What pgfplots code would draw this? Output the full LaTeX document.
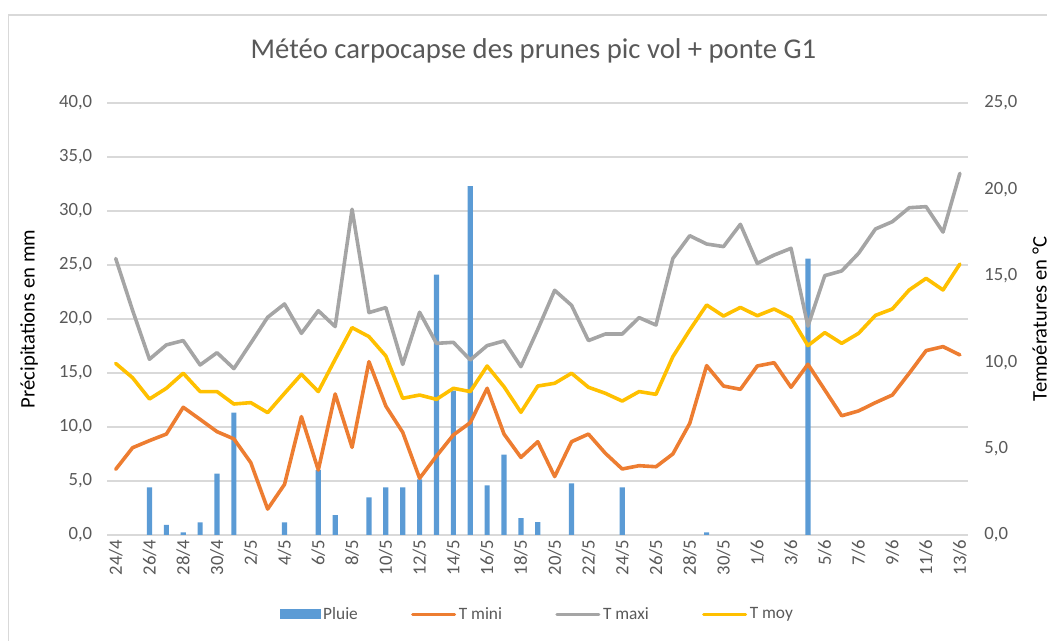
\documentclass[border=0pt]{standalone}
\usepackage{pgfplots}
\pgfplotsset{compat=1.18}
\usepackage{pgfplotstable}
\usepackage{fontspec}
\setmainfont{Carlito}
\definecolor{pblue}{HTML}{5B9BD5}
\definecolor{porange}{HTML}{ED7D31}
\definecolor{pgrey}{HTML}{A5A5A5}
\definecolor{pyellow}{HTML}{FFC000}
\definecolor{gridc}{HTML}{D9D9D9}
\definecolor{txt}{HTML}{595959}

\pgfplotstableread{
i tmin tmax tmoy
0 3.80 16.00 9.93
1 5.05 13.00 9.10
2 5.46 10.17 7.87
3 5.84 11.00 8.49
4 7.39 11.25 9.36
5 6.69 9.84 8.30
6 5.98 10.55 8.30
7 5.56 9.63 7.58
8 4.19 11.10 7.66
9 1.50 12.60 7.08
10 2.93 13.37 8.20
11 6.85 11.67 9.30
12 3.76 12.98 8.30
13 8.16 12.06 10.17
14 5.07 18.85 12.00
15 10.03 12.87 11.48
16 7.46 13.16 10.36
17 5.94 9.87 7.91
18 3.28 12.89 8.10
19 4.57 11.09 7.85
20 5.79 11.15 8.49
21 6.50 10.13 8.30
22 8.49 10.96 9.78
23 5.84 11.23 8.58
24 4.49 9.74 7.10
25 5.40 11.90 8.62
26 3.38 14.16 8.78
27 5.40 13.29 9.36
28 5.84 11.25 8.55
29 4.73 11.63 8.20
30 3.82 11.63 7.75
31 4.01 12.58 8.30
32 3.95 12.15 8.14
33 4.69 16.00 10.32
34 6.46 17.32 11.86
35 9.80 16.84 13.31
36 8.62 16.69 12.67
37 8.43 17.98 13.17
38 9.78 15.72 12.69
39 9.97 16.20 13.08
40 8.55 16.59 12.58
41 9.88 12.09 10.96
42 8.39 15.01 11.71
43 6.90 15.28 11.09
44 7.18 16.30 11.67
45 7.66 17.71 12.71
46 8.10 18.13 13.08
47 9.36 18.94 14.18
48 10.67 19.00 14.85
49 10.90 17.53 14.18
50 10.42 20.93 15.68
}\temps

\pgfplotstableread{
i rain
2 4.40
3 0.93
4 0.25
5 1.17
6 5.68
7 11.33
10 1.17
12 6.00
13 1.85
15 3.49
16 4.40
17 4.40
18 5.15
19 24.10
20 13.36
21 32.30
22 4.60
23 7.44
24 1.57
25 1.20
27 4.78
30 4.40
35 0.25
41 25.60
}\rain

\begin{document}
\begin{tikzpicture}[x=0.75pt,y=0.75pt]
\draw[gridc, line width=1.1pt] (8.7,-20) -- (8.7,626) -- (1070,626);
\begin{axis}[
  at={(86.775pt,79.5pt)}, anchor=origin, scale only axis,
  width=645.8pt, height=324pt,
  xmin=-0.5, xmax=50.5, ymin=0, ymax=40,
  xtick={0,2,...,50},
  xticklabels={24/4,26/4,28/4,30/4,2/5,4/5,6/5,8/5,10/5,12/5,14/5,16/5,18/5,20/5,22/5,24/5,26/5,28/5,30/5,1/6,3/6,5/6,7/6,9/6,11/6,13/6},
  ytick={0,5,...,40},
  ymajorgrids, grid style={gridc, line width=0.9pt},
  axis line style={draw=none},
  tick style={draw=none},
  major tick length=0pt,
  ticklabel style={font=\fontsize{14}{16}\selectfont, text=txt},
  xticklabel style={rotate=90, anchor=east},
  yticklabel style={xshift=-7.8pt},
  /pgf/number format/fixed, /pgf/number format/fixed zerofill,
  /pgf/number format/precision=1, /pgf/number format/use comma,
  /pgf/number format/assume math mode=true,
]
\addplot[ybar, bar width=3.9pt, fill=pblue, draw=none] table[x=i,y=rain]{\rain};
\end{axis}
\begin{axis}[
  at={(86.775pt,79.5pt)}, anchor=origin, scale only axis,
  width=645.8pt, height=324pt,
  xmin=-0.5, xmax=50.5, ymin=0, ymax=25,
  hide x axis,
  yticklabel pos=right,
  axis line style={draw=none},
  ytick={0,5,...,25},
  tick style={draw=none},
  major tick length=0pt,
  ticklabel style={font=\fontsize{14}{16}\selectfont, text=txt},
  yticklabel style={xshift=8.5pt},
  /pgf/number format/fixed, /pgf/number format/fixed zerofill,
  /pgf/number format/precision=1, /pgf/number format/use comma,
  /pgf/number format/assume math mode=true,
  legend image code/.code={\draw[#1, line width=2.2pt] (0pt,0pt) -- (31.5pt,0pt);},
  legend style={at={(0.5,-0.183)}, anchor=center, draw=none, fill=none,
    font=\fontsize{13}{15}\selectfont, text=txt,
    /tikz/every even column/.append style={column sep=38pt}},
  legend columns=4,
]
\addlegendimage{legend image code/.code={\fill[pblue] (0pt,-3.5pt) rectangle (30pt,3.5pt);}}
\addlegendentry{Pluie}
\addplot[porange, line width=2.7pt, line join=round, line cap=round] table[x=i,y=tmin]{\temps};
\addlegendentry{T mini}
\addplot[pgrey, line width=2.7pt, line join=round, line cap=round] table[x=i,y=tmax]{\temps};
\addlegendentry{T maxi}
\addplot[pyellow, line width=2.7pt, line join=round, line cap=round] table[x=i,y=tmoy]{\temps};
\addlegendentry{T moy}
\end{axis}
\node[font=\fontsize{21.5}{24}\selectfont, text=txt, anchor=base] at (533.5,582.5) {Météo carpocapse des prunes pic vol + ponte G1};
\node[rotate=90, anchor=base, font=\fontsize{15.5}{18}\selectfont] at (34.5,322) {Précipitations en mm};
\node[rotate=90, anchor=base, font=\fontsize{15.5}{18}\selectfont] at (1046.5,322) {Températures en °C};
\pgfresetboundingbox
\useasboundingbox (0,0) rectangle (1047,641);
\end{tikzpicture}
\end{document}
